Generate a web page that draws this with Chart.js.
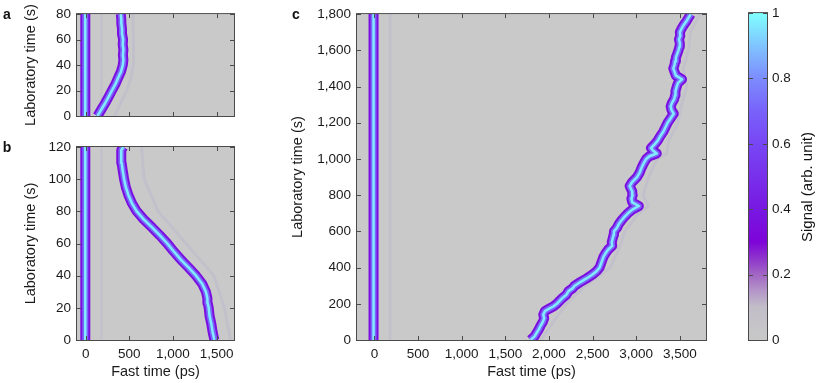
<!DOCTYPE html>
<html>
<head>
<meta charset="utf-8">
<script src="https://cdn.jsdelivr.net/npm/chart.js@4.4.1/dist/chart.umd.min.js"></script>
<style>
html,body{margin:0;padding:0;background:#fff;}
#wrap{position:relative;width:817px;height:383px;overflow:hidden;background:#fff;}
#wrap canvas{position:absolute;left:0;top:0;}
</style>
</head>
<body>
<div id="wrap">
<canvas id="ca" width="817" height="383"></canvas>
<canvas id="cb" width="817" height="383"></canvas>
<canvas id="cc" width="817" height="383"></canvas>
<canvas id="cbar" width="817" height="383"></canvas>
</div>
<script>
// ---------------- DATA ----------------
// Panel a (lab time s / fast time ps)
const labTimeA = [0, 5, 10, 15, 20, 25, 30, 35, 40, 44, 48, 52, 56, 60, 64, 68, 72, 76, 80];
const traceA   = [135, 178, 222, 262, 300, 340, 372, 405, 425, 432, 426, 432, 424, 428, 418, 416, 410, 408, 402];
const refTimeA = [0, 10, 20, 30, 40, 50, 60, 70, 80];
const refA     = [-6, -3, -7, -4, -6, -3, -7, -4, -6];
const echoTimeA = [0, 10, 20, 30, 40, 60, 80];
const echoA     = [330, 400, 470, 520, 545, 548, 540];

// Panel b
const labTimeB = [0, 5, 10, 15, 20, 23, 26, 30, 35, 40, 45, 50, 55, 60, 65, 70, 75, 80, 85, 90, 95, 100, 105, 110, 115, 118, 120];
const traceB   = [1475, 1455, 1440, 1420, 1410, 1398, 1395, 1378, 1335, 1265, 1180, 1090, 1010, 935, 850, 760, 665, 585, 530, 490, 460, 440, 425, 412, 405, 410, 430];
const refTimeB = [0, 15, 30, 45, 60, 75, 90, 105, 120];
const refB     = [-6, -3, -7, -4, -6, -3, -7, -4, -6];
const echoTimeB = [0, 20, 40, 60, 80, 100, 120];
const echoB     = [1660, 1590, 1470, 1150, 830, 670, 640];

// Panel c
const labTimeC = [0,20,40,60,80,100,120,140,160,170,185,200,215,230,250,270,285,300,320,340,360,380,400,420,440,460,480,500,520,540,560,580,600,620,640,660,680,700,720,740,760,780,800,820,850,870,900,925,950,975,1000,1015,1030,1045,1060,1080,1100,1125,1150,1175,1200,1225,1250,1270,1290,1310,1330,1350,1375,1400,1420,1440,1460,1480,1500,1520,1540,1560,1580,1600,1620,1640,1660,1680,1700,1720,1740,1760,1780,1800];
const traceC   = [1790,1835,1860,1885,1905,1930,1945,1935,1955,1990,2050,2090,2120,2150,2200,2225,2270,2295,2360,2430,2495,2545,2580,2595,2610,2625,2650,2680,2725,2720,2730,2740,2745,2780,2800,2830,2865,2905,2955,3030,2955,2945,2960,2955,2925,2950,3010,3040,3060,3085,3115,3150,3235,3195,3170,3210,3245,3275,3310,3335,3360,3395,3430,3405,3395,3410,3435,3445,3450,3465,3480,3525,3455,3440,3425,3440,3445,3455,3470,3485,3495,3500,3490,3505,3500,3520,3545,3575,3600,3625];
const refTimeC = [0, 200, 400, 600, 800, 1000, 1200, 1400, 1600, 1800];
const refC     = [-12, -8, -13, -9, -12, -8, -13, -9, -12, -10];
const echoTimeC = [0, 100, 200, 300, 400, 500, 600, 700, 740, 800, 900, 1000, 1030, 1100, 1200, 1300, 1400, 1500, 1600, 1700, 1800];
const echoC     = [1910, 2050, 2200, 2420, 2700, 2800, 2870, 3030, 3140, 3080, 3140, 3240, 3350, 3370, 3480, 3520, 3580, 3540, 3600, 3620, 3730];

// faint secondary reference line
const ghostFast = [180, 180];

// ticks
const xTicksAB = [0, 500, 1000, 1500];
const xTickLabelsAB = ['0', '500', '1,000', '1,500'];
const xTicksC = [0, 500, 1000, 1500, 2000, 2500, 3000, 3500];
const xTickLabelsC = ['0', '500', '1,000', '1,500', '2,000', '2,500', '3,000', '3,500'];
const yTicksA = [0, 20, 40, 60, 80];
const yTickLabelsA = ['0', '20', '40', '60', '80'];
const yTicksB = [0, 20, 40, 60, 80, 100, 120];
const yTickLabelsB = ['0', '20', '40', '60', '80', '100', '120'];
const yTicksC = [0, 200, 400, 600, 800, 1000, 1200, 1400, 1600, 1800];
const yTickLabelsC = ['0', '200', '400', '600', '800', '1,000', '1,200', '1,400', '1,600', '1,800'];
const cbTicks = [0, 0.2, 0.4, 0.6, 0.8, 1];
const cbTickLabels = ['0', '0.2', '0.4', '0.6', '0.8', '1'];
const cbRange = [0, 1];
// colour map stops (value, colour)
const cmapValues = [0, 0.1, 0.15, 0.2, 0.25, 0.3, 0.4, 0.5, 0.6, 0.7, 0.8, 0.9, 1];
const cmapColors = ['#c8c8c8', '#c2bec8', '#b496c8', '#a266c4', '#8e34cc', '#7e04d8', '#7818e2', '#7830ea', '#7846f4', '#7862fa', '#7c8cfe', '#80c4ff', '#80ffff'];

// ---------------- STYLE / HELPERS ----------------
const FONT = '"Liberation Sans", Arial, Helvetica, sans-serif';
Chart.defaults.font.family = FONT;
Chart.defaults.color = '#1a1a1a';

const framePlugin = {
  id: 'frame',
  beforeDatasetsDraw(chart, args, opts) {
    const a = chart.chartArea, ctx = chart.ctx;
    if (opts.bg) {
      ctx.save();
      ctx.fillStyle = opts.bg;
      ctx.fillRect(a.left, a.top, a.right - a.left, a.bottom - a.top);
      ctx.restore();
    }
  },
  afterDatasetsDraw(chart, args, opts) {
    const a = chart.chartArea, ctx = chart.ctx;
    const L = 4;
    ctx.save();
    ctx.strokeStyle = '#4a4a4a';
    ctx.lineWidth = 1;
    ctx.beginPath();
    if (opts.xTicks !== false) {
      const xs = chart.scales.x;
      xs.ticks.forEach(t => {
        const p = Math.round(xs.getPixelForValue(t.value)) + 0.5;
        ctx.moveTo(p, a.bottom); ctx.lineTo(p, a.bottom - L);
        ctx.moveTo(p, a.top); ctx.lineTo(p, a.top + L);
      });
    }
    const ys = chart.scales.y;
    ys.ticks.forEach(t => {
      const p = Math.round(ys.getPixelForValue(t.value)) + 0.5;
      ctx.moveTo(a.left, p); ctx.lineTo(a.left + L, p);
      ctx.moveTo(a.right, p); ctx.lineTo(a.right - L, p);
    });
    ctx.stroke();
    ctx.strokeRect(a.left - 0.5, a.top - 0.5, a.right - a.left + 1, a.bottom - a.top + 1);
    ctx.restore();
  }
};

const textPlugin = {
  id: 'extraText',
  afterDraw(chart, args, opts) {
    if (!opts.items) return;
    const ctx = chart.ctx;
    opts.items.forEach(it => {
      ctx.save();
      ctx.translate(it.x, it.y);
      if (it.rot) ctx.rotate(it.rot);
      ctx.font = it.font;
      ctx.fillStyle = '#111';
      ctx.textAlign = 'center';
      ctx.textBaseline = 'middle';
      ctx.fillText(it.text, 0, 0);
      ctx.restore();
    });
  }
};

const pts = (xs, ts) => xs.map((x, i) => ({x: x, y: ts[i]}));
const baseLine = {showLine: true, pointRadius: 0, tension: 0, fill: false, clip: 0,
                  borderJoinStyle: 'round', borderCapStyle: 'butt'};
function band(xs, ts) {
  const d = pts(xs, ts);
  return [
    Object.assign({}, baseLine, {data: d, borderColor: '#82ecff', borderWidth: 2.5, order: 1}),
    Object.assign({}, baseLine, {data: d, borderColor: '#7a66f8', borderWidth: 6, order: 2}),
    Object.assign({}, baseLine, {data: d, borderColor: '#7a0ee0', borderWidth: 10, order: 3})
  ];
}
function faint(xs, ts, w) {
  return Object.assign({}, baseLine, {data: pts(xs, ts), borderColor: 'rgba(150,140,220,0.12)', borderWidth: w || 3, order: 5});
}

function panel(id, c) {
  return new Chart(document.getElementById(id), {
    type: 'scatter',
    data: {datasets: c.datasets},
    options: {
      responsive: false, animation: false, events: [],
      layout: {padding: c.padding},
      plugins: {legend: {display: false}, tooltip: {enabled: false},
                frame: {bg: '#c9c9c9'}, extraText: {items: c.texts}},
      scales: {
        x: {
          type: 'linear', min: c.xMin, max: c.xMax,
          grid: {display: false, drawTicks: false}, border: {display: false},
          afterBuildTicks: s => { s.ticks = c.xTicks.map(v => ({value: v})); },
          afterFit: s => { s.height = c.xHeight; },
          ticks: {display: c.xLabels, padding: 6, maxRotation: 0, autoSkip: false,
                  font: {size: 13.5}, callback: (v, i) => c.xTickLabels[i]},
          title: {display: c.xLabels, text: 'Fast time (ps)', font: {size: 14.5}, padding: {top: 0, bottom: 2}}
        },
        y: {
          type: 'linear', min: c.yMin, max: c.yMax,
          grid: {display: false, drawTicks: false}, border: {display: false},
          afterBuildTicks: s => { s.ticks = c.yTicks.map(v => ({value: v})); },
          afterFit: s => { s.width = c.yWidth; },
          ticks: {padding: 6, autoSkip: false, font: {size: 13.5}, callback: (v, i) => c.yTickLabels[i]},
          title: {display: true, text: 'Laboratory time (s)', font: {size: 14.5}, padding: {top: c.yTitlePad, bottom: 0}}
        }
      }
    },
    plugins: [framePlugin, textPlugin]
  });
}

// ---------------- PANELS ----------------
panel('ca', {
  datasets: [].concat(band(traceA, labTimeA), band(refA, refTimeA),
                      [faint(echoA, echoTimeA), faint(ghostFast, [0, 80], 2)]),
  padding: {left: 0, right: 583, top: 13, bottom: 267},
  xMin: -100, xMax: 1700, yMin: 0, yMax: 80,
  xTicks: xTicksAB, xTickLabels: xTickLabelsAB, xLabels: false, xHeight: 0,
  yTicks: yTicksA, yTickLabels: yTickLabelsA, yWidth: 77, yTitlePad: 22,
  texts: [{text: 'a', x: 7, y: 15, font: 'bold 14px ' + FONT}]
});

panel('cb', {
  datasets: [].concat(band(traceB, labTimeB), band(refB, refTimeB),
                      [faint(echoB, echoTimeB), faint(ghostFast, [0, 120], 2)]),
  padding: {left: 0, right: 583, top: 147, bottom: 0},
  xMin: -100, xMax: 1700, yMin: 0, yMax: 120,
  xTicks: xTicksAB, xTickLabels: xTickLabelsAB, xLabels: true, xHeight: 43,
  yTicks: yTicksB, yTickLabels: yTickLabelsB, yWidth: 77, yTitlePad: 22,
  texts: [{text: 'b', x: 7, y: 148, font: 'bold 14px ' + FONT}]
});

panel('cc', {
  datasets: [].concat(band(traceC, labTimeC), band(refC, refTimeC),
                      [faint(echoC, echoTimeC), faint(ghostFast, [0, 1800], 3)]),
  padding: {left: 270, right: 111, top: 13, bottom: 0},
  xMin: -200, xMax: 3800, yMin: 0, yMax: 1800,
  xTicks: xTicksC, xTickLabels: xTickLabelsC, xLabels: true, xHeight: 43,
  yTicks: yTicksC, yTickLabels: yTickLabelsC, yWidth: 87, yTitlePad: 19,
  texts: [{text: 'c', x: 296, y: 15, font: 'bold 14px ' + FONT}]
});

// ---------------- COLOUR BAR ----------------
new Chart(document.getElementById('cbar'), {
  type: 'bar',
  data: {
    labels: [''],
    datasets: [{
      data: [cbRange],
      borderWidth: 0, barPercentage: 1, categoryPercentage: 1,
      backgroundColor: (ctx) => {
        const chart = ctx.chart;
        const ys = chart.scales.y;
        if (!chart.chartArea || !ys) return cmapColors[0];
        const y0 = ys.getPixelForValue(cmapValues[0]);
        const y1 = ys.getPixelForValue(cmapValues[cmapValues.length - 1]);
        const g = chart.ctx.createLinearGradient(0, y0, 0, y1);
        cmapValues.forEach((v, i) => g.addColorStop(v, cmapColors[i]));
        return g;
      }
    }]
  },
  options: {
    responsive: false, animation: false, events: [],
    layout: {padding: {left: 749, right: 0, top: 13, bottom: 43}},
    plugins: {legend: {display: false}, tooltip: {enabled: false},
              frame: {bg: null, xTicks: false},
              extraText: {items: [{text: 'Signal (arb. unit)', x: 808, y: 187, rot: -Math.PI / 2, font: '15px ' + FONT}]}},
    scales: {
      x: {display: false},
      y: {
        position: 'right', min: 0, max: 1,
        grid: {display: false, drawTicks: false}, border: {display: false},
        afterBuildTicks: s => { s.ticks = cbTicks.map(v => ({value: v})); },
        afterFit: s => { s.width = 50; },
        ticks: {padding: 5, font: {size: 13.5}, callback: (v, i) => cbTickLabels[i]}
      }
    }
  },
  plugins: [framePlugin, textPlugin]
});
</script>
</body>
</html>
